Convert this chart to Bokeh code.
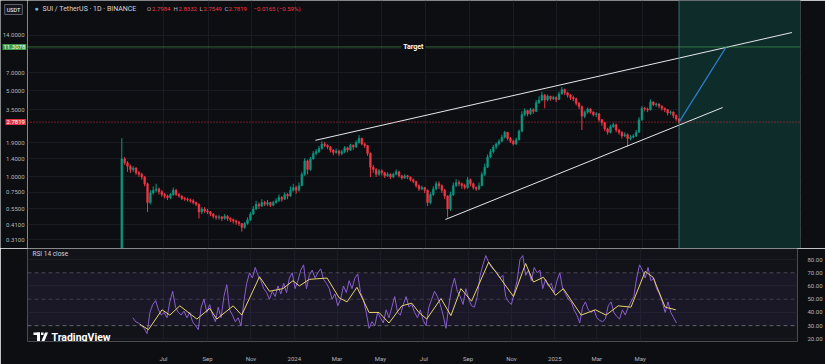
import pandas as pd
from bokeh.plotting import figure
from bokeh.layouts import column, row
from bokeh.models import (Range1d, FixedTicker, Label, Span, BoxAnnotation,
                          PolyAnnotation, ColumnDataSource, NumeralTickFormatter)
from bokeh.core.properties import value
from bokeh.embed import file_html
from bokeh.resources import INLINE

# ---------------- data (4-day candles, SUI/USDT) ----------------
START = "2023-05-03"
first_open = 0.10
closes = [
    1.40, 1.30, 1.22, 1.15, 1.18, 1.08, 1.05, 1.00,
    0.88, 0.62, 0.74, 0.78, 0.80, 0.76, 0.72,
    0.70, 0.68, 0.72, 0.78, 0.72, 0.70, 0.67, 0.66,
    0.65, 0.64, 0.62, 0.60, 0.52, 0.55, 0.53, 0.52,
    0.50, 0.48, 0.47, 0.475, 0.46, 0.48, 0.46,
    0.45, 0.44, 0.43, 0.42, 0.39, 0.42, 0.45, 0.50,
    0.55, 0.60, 0.58, 0.62, 0.60, 0.62, 0.59, 0.62,
    0.64, 0.68, 0.66, 0.72, 0.70, 0.78, 0.82, 0.78,
    0.85, 1.05, 1.35, 1.15, 1.40, 1.55, 1.60, 1.70,
    1.85, 1.80, 1.75, 1.65, 1.58, 1.62, 1.55,
    1.60, 1.72, 1.65, 1.80, 1.75, 1.90, 2.05, 1.85,
    1.80, 1.55, 1.20, 1.15, 1.05, 1.12, 1.08, 1.02,
    1.05, 1.00, 1.05, 1.10, 1.02, 0.98, 1.02,
    1.00, 0.95, 0.92, 0.85, 0.80, 0.82, 0.78, 0.62,
    0.72, 0.80, 0.88, 0.85, 0.78, 0.70, 0.55, 0.72,
    0.85, 0.90, 0.88, 0.85, 0.82, 0.95, 0.88, 0.82,
    0.80, 0.85, 1.05, 1.20, 1.45, 1.60, 1.75,
    1.85, 1.95, 2.10, 2.30, 2.05, 1.95, 1.85, 2.00,
    2.35, 3.20, 3.45, 3.25, 3.50, 3.40, 4.00, 4.20,
    4.60, 4.20, 4.50, 4.30, 4.40, 4.25, 4.70,
    5.10, 4.80, 4.60, 4.40, 4.30, 3.95, 3.70, 3.10,
    3.35, 3.55, 3.35, 3.20, 3.25, 2.90, 2.75,
    2.45, 2.30, 2.55, 2.65, 2.40, 2.30, 2.15, 2.20,
    2.05, 2.10, 2.15, 2.30, 2.90, 3.60, 3.55, 3.50,
    4.05, 3.85, 3.90, 3.75, 3.60, 3.50, 3.30, 3.35,
    3.15, 2.95, 2.7819,
]
highs = [
    2.06, 1.45, 1.34, 1.26, 1.22, 1.20, 1.12, 1.08,
    1.02, 0.90, 0.78, 0.84, 0.88, 0.82, 0.78,
    0.74, 0.72, 0.74, 0.82, 0.80, 0.74, 0.71, 0.69,
    0.68, 0.67, 0.66, 0.63, 0.61, 0.57, 0.57, 0.55,
    0.53, 0.51, 0.49, 0.49, 0.48, 0.50, 0.49,
    0.47, 0.46, 0.45, 0.44, 0.42, 0.43, 0.47, 0.52,
    0.58, 0.64, 0.62, 0.66, 0.64, 0.65, 0.63, 0.64,
    0.67, 0.72, 0.70, 0.75, 0.74, 0.84, 0.88, 0.85,
    0.90, 1.10, 1.42, 1.38, 1.45, 1.62, 1.68, 1.78,
    1.95, 1.92, 1.84, 1.78, 1.68, 1.70, 1.66,
    1.66, 1.78, 1.76, 1.86, 1.84, 1.98, 2.18, 2.08,
    1.90, 1.82, 1.58, 1.25, 1.18, 1.16, 1.15, 1.10,
    1.09, 1.07, 1.08, 1.15, 1.12, 1.04, 1.05,
    1.04, 1.01, 0.97, 0.93, 0.87, 0.85, 0.83, 0.79,
    0.75, 0.84, 0.92, 0.92, 0.87, 0.80, 0.71, 0.76,
    0.90, 0.96, 0.94, 0.90, 0.88, 1.00, 0.97, 0.90,
    0.84, 0.90, 1.10, 1.28, 1.52, 1.68, 1.82,
    1.90, 2.02, 2.20, 2.36, 2.32, 2.10, 2.00, 2.08,
    2.42, 3.40, 3.60, 3.50, 3.62, 3.60, 4.20, 4.50,
    4.90, 4.70, 4.65, 4.55, 4.55, 4.50, 4.90,
    5.35, 5.20, 4.90, 4.70, 4.55, 4.40, 4.05, 3.80,
    3.45, 3.65, 3.60, 3.40, 3.35, 3.28, 2.95,
    2.80, 2.50, 2.65, 2.75, 2.70, 2.45, 2.35, 2.30,
    2.25, 2.18, 2.22, 2.40, 3.05, 3.75, 3.70, 3.65,
    4.25, 4.10, 4.00, 3.95, 3.80, 3.65, 3.55, 3.45,
    3.40, 3.20, 3.00,
]
lows = [
    0.10, 1.25, 1.10, 1.08, 1.10, 1.04, 1.00, 0.95,
    0.84, 0.52, 0.60, 0.72, 0.75, 0.72, 0.69,
    0.67, 0.65, 0.66, 0.70, 0.70, 0.68, 0.65, 0.64,
    0.63, 0.62, 0.60, 0.58, 0.46, 0.50, 0.51, 0.50,
    0.48, 0.46, 0.45, 0.45, 0.44, 0.45, 0.44,
    0.43, 0.42, 0.41, 0.40, 0.36, 0.38, 0.41, 0.44,
    0.49, 0.54, 0.55, 0.57, 0.58, 0.58, 0.57, 0.58,
    0.61, 0.63, 0.63, 0.65, 0.66, 0.69, 0.76, 0.73,
    0.76, 0.84, 1.02, 1.05, 1.12, 1.38, 1.50, 1.56,
    1.66, 1.74, 1.68, 1.58, 1.50, 1.54, 1.48,
    1.50, 1.56, 1.58, 1.62, 1.66, 1.72, 1.86, 1.80,
    1.72, 1.48, 1.00, 1.08, 1.00, 1.02, 1.03, 0.98,
    1.00, 0.96, 0.98, 1.03, 0.99, 0.95, 0.96,
    0.96, 0.92, 0.89, 0.82, 0.77, 0.78, 0.74, 0.58,
    0.60, 0.70, 0.78, 0.80, 0.74, 0.66, 0.47, 0.53,
    0.70, 0.83, 0.84, 0.80, 0.79, 0.80, 0.84, 0.79,
    0.77, 0.78, 0.84, 1.02, 1.18, 1.42, 1.55,
    1.68, 1.80, 1.92, 2.05, 1.98, 1.88, 1.80, 1.82,
    1.98, 2.30, 3.10, 3.10, 3.18, 3.25, 3.35, 3.90,
    4.10, 3.60, 4.10, 4.15, 4.20, 4.05, 4.20,
    4.65, 4.60, 4.40, 4.20, 4.10, 3.80, 3.55, 2.40,
    3.00, 3.25, 3.25, 3.10, 3.05, 2.80, 2.60,
    2.35, 2.20, 2.25, 2.50, 2.30, 2.20, 2.05, 2.10,
    1.75, 1.98, 2.05, 2.10, 2.28, 2.85, 3.40, 3.35,
    3.45, 3.75, 3.70, 3.60, 3.45, 3.35, 3.15, 3.20,
    3.00, 2.85, 2.70,
]
NAN = float("nan")
rsi = [
    NAN, NAN, NAN, NAN, 36, 33, 32, 30,
    28, 24, 40, 46, 49, 42, 38,
    40, 36, 48, 56, 44, 40, 38, 41,
    36, 40, 33, 30, 27, 44, 50, 40,
    46, 38, 33, 44, 36, 52, 61,
    42, 38, 33, 36, 30, 48, 62, 70,
    66, 74, 68, 64, 58, 55, 50, 56,
    52, 60, 54, 62, 55, 66, 70, 58,
    64, 72, 76, 58, 68, 72, 66, 70,
    73, 65, 62, 58, 50, 54, 45,
    50, 60, 55, 64, 58, 66, 69, 55,
    50, 40, 28, 33, 30, 40, 36, 32,
    42, 36, 44, 52, 40, 38, 46,
    52, 44, 46, 40, 36, 42, 34, 30,
    44, 50, 56, 52, 46, 38, 28, 45,
    58, 66, 56, 52, 46, 58, 50, 45,
    44, 52, 68, 76, 83, 78, 74,
    72, 70, 66, 68, 52, 48, 46, 55,
    64, 80, 83, 68, 72, 64, 74, 70,
    72, 58, 65, 60, 62, 55, 64,
    70, 58, 54, 50, 48, 42, 38, 32,
    44, 48, 42, 40, 42, 36, 34,
    33, 35, 45, 48, 40, 37, 35, 42,
    38, 44, 48, 52, 66, 76, 72, 66,
    74, 64, 66, 58, 54, 48, 40, 48,
    40, 36, 32,
]
ma_dates = [
    "2023-05-29", "2023-06-10", "2023-06-29", "2023-07-10", "2023-07-24", "2023-08-17",
    "2023-09-04", "2023-09-14", "2023-10-07", "2023-10-19", "2023-11-13", "2023-11-27",
    "2023-12-16", "2023-12-30", "2024-01-08", "2024-01-22", "2024-02-16", "2024-03-04",
    "2024-03-15", "2024-03-29", "2024-04-15", "2024-04-29", "2024-05-13", "2024-05-31",
    "2024-06-14", "2024-06-24", "2024-07-05", "2024-07-25", "2024-08-08", "2024-08-22",
    "2024-09-06", "2024-09-30", "2024-11-04", "2024-11-21", "2024-12-02", "2024-12-16",
    "2025-01-02", "2025-01-13", "2025-02-07", "2025-02-27", "2025-03-14", "2025-03-31",
    "2025-04-18", "2025-05-08", "2025-05-19", "2025-06-05", "2025-06-20",
]
ma_vals = [
    31, 27, 42, 38, 45, 35,
    43, 35, 45, 38, 67, 56,
    58, 64, 60, 65, 66, 51,
    48, 59, 40, 40, 32, 45,
    47, 40, 35, 50.5, 37.6, 58,
    48.5, 78, 52, 77, 63, 66.6,
    53, 58, 38, 42, 38, 45,
    44, 71, 66.6, 44, 42,
]
last_ohlc = [2.7984, 2.8332, 2.7549, 2.7819]
change = [-0.0165, -0.59]
price_ticks = [0.31, 0.41, 0.55, 0.75, 1.0, 1.4, 1.9, 3.5, 5.0, 7.0, 11.0, 14.0]
rsi_ticks = [20, 30, 40, 50, 60, 70, 80]
month_ticks = ["2023-07-01", "2023-09-01", "2023-11-01", "2024-01-01", "2024-03-01", "2024-05-01",
               "2024-07-01", "2024-09-01", "2024-11-01", "2025-01-01", "2025-03-01", "2025-05-01"]
month_labels = ["Jul", "Sep", "Nov", "2024", "Mar", "May", "Jul", "Sep", "Nov", "2025", "Mar", "May"]
target_price = 11.3078
current_price = 2.7819
upper_dates = ["2024-01-29", "2025-11-26"]
upper_prices = [1.98, 14.8]
lower_dates = ["2024-07-29", "2025-08-21"]
lower_prices = [0.452, 3.65]
proj_dates = ["2025-06-21", "2025-08-26"]
proj_prices = [2.7819, 11.3078]
zone_start = "2025-06-21"
target_label_date = "2024-06-14"
X_START, X_END = "2022-12-22", "2025-12-08"

# ---------------- styling ----------------
BG = "#0d0e12"
RSI_BG = "#121219"
GRID = "#1a1c23"
UP, DN = "#089981", "#f23645"
AXIS_TXT = "#b2b5be"
FONT = "Roboto"
W, H1, H2, LB, RB = 825, 248, 116, 27, 25


def ms(s):
    return pd.Timestamp(s).value / 1e6


dates = pd.date_range(START, periods=len(closes), freq="4D")
opens = [first_open] + closes[:-1]
colors = [UP if c >= o else DN for o, c in zip(opens, closes)]
src = ColumnDataSource(dict(date=dates, open=opens, close=closes, high=highs,
                            low=lows, color=colors, rsi=rsi))
month_ms = [ms(d) for d in month_ticks]
x_range = Range1d(ms(X_START), ms(X_END))
y_range = Range1d(0.263, 26.9)

# ---------------- left price-scale strip ----------------
ps = figure(width=LB, height=H1, y_axis_type="log", x_range=Range1d(0, LB), y_range=y_range,
            x_axis_location=None, y_axis_location=None, output_backend="svg",
            toolbar_location=None, min_border=0, background_fill_color=BG,
            border_fill_color=BG, outline_line_color=None)
ps.grid.visible = False
ps.text(x=[LB - 3] * len(price_ticks), y=price_ticks, text=[f"{t:.4f}" for t in price_ticks],
        text_align="right", text_baseline="middle", text_font=value(FONT),
        text_font_size="6px", text_color=AXIS_TXT)
ps.add_layout(Label(x=2, x_units="screen", y=target_price, text=f"{target_price:.4f}",
                    text_baseline="middle", text_font=FONT, text_font_size="6px",
                    text_color="#ffffff", background_fill_color="#3f9a45", padding=1))
ps.add_layout(Label(x=5, x_units="screen", y=current_price, text=f"{current_price:.4f}",
                    text_baseline="middle", text_font=FONT, text_font_size="6px",
                    text_color="#ffffff", background_fill_color="#d93342", padding=1))
ps.add_layout(Label(x=13, y=H1 - 9, x_units="screen", y_units="screen", text="USDT",
                    text_align="center", text_baseline="middle", text_font=FONT,
                    text_font_size="5.5px", text_color="#ffffff",
                    border_line_color="#5d606b", border_line_width=1,
                    background_fill_color="#16171c", padding=2))

# ---------------- main price panel ----------------
p = figure(width=W - LB, height=H1, x_axis_type="datetime", y_axis_type="log",
           x_range=x_range, y_range=y_range,
           x_axis_location=None, y_axis_location=None,
           output_backend="svg", toolbar_location=None,
           min_border_left=0, min_border_right=RB, min_border_top=0, min_border_bottom=0,
           background_fill_color=BG, border_fill_color=BG, outline_line_color=None)
p.xgrid.ticker = FixedTicker(ticks=month_ms)
p.ygrid.ticker = FixedTicker(ticks=price_ticks)
p.grid.grid_line_color = GRID

# future zone
p.add_layout(BoxAnnotation(left=ms(zone_start), fill_color="#0e2c2a", fill_alpha=1.0,
                           line_color=None, level="underlay"))
p.add_layout(Span(location=ms(zone_start), dimension="height", line_color="#2f8f84",
                  line_width=1, line_alpha=0.8))

bar_w = 4 * 86400000 * 0.62
p.segment(x0="date", x1="date", y0="low", y1="high", color="color", source=src, line_width=1)
p.vbar(x="date", width=bar_w, top="open", bottom="close", fill_color="color",
       line_color="color", line_width=0.5, source=src)

# horizontal levels
p.add_layout(Span(location=target_price, dimension="width", line_color="#4caf50",
                  line_alpha=0.55, line_width=1))
p.add_layout(Span(location=current_price, dimension="width", line_color=DN,
                  line_alpha=0.85, line_width=1, line_dash="1 2"))

# trend lines and projection
p.line(pd.to_datetime(upper_dates), upper_prices, color="#e6e8ee", line_width=1)
p.line(pd.to_datetime(lower_dates), lower_prices, color="#e6e8ee", line_width=1)
p.line(pd.to_datetime(proj_dates), proj_prices, color="#2f7fd0", line_width=1.2)

p.add_layout(Label(x=ms(target_label_date), y=target_price, text="Target",
                   text_align="center", text_baseline="middle", text_font=FONT,
                   text_font_size="7px", text_font_style="bold", text_color="#ffffff",
                   background_fill_color=BG, padding=2))

# header
HY = H1 - 8
p.add_layout(Label(x=7, y=HY, x_units="screen", y_units="screen", text="●",
                   text_baseline="middle", text_font_size="7px", text_color="#6fb6ea"))
p.add_layout(Label(x=15, y=HY, x_units="screen", y_units="screen",
                   text="SUI / TetherUS · 1D · BINANCE", text_baseline="middle",
                   text_font=FONT, text_font_size="7px", text_color="#d1d4dc"))
pieces = [("O", 146.5, AXIS_TXT), (f"{last_ohlc[0]:.4f}", 151.5, DN),
          ("H", 173, AXIS_TXT), (f"{last_ohlc[1]:.4f}", 178, DN),
          ("L", 199, AXIS_TXT), (f"{last_ohlc[2]:.4f}", 203, DN),
          ("C", 224, AXIS_TXT), (f"{last_ohlc[3]:.4f}", 228, DN),
          (f"−{abs(change[0]):.4f} (−{abs(change[1]):.2f}%)", 253, DN)]
for txt, rx, col in pieces:
    p.add_layout(Label(x=rx - LB, y=HY, x_units="screen", y_units="screen",
                       text=txt, text_baseline="middle", text_font=FONT,
                       text_font_size="6px", text_color=col))

# ---------------- RSI panel ----------------
p2 = figure(width=W, height=H2, x_axis_type="datetime", x_range=x_range,
            y_range=Range1d(18.04, 88.33), y_axis_location="right",
            output_backend="svg", toolbar_location=None,
            min_border_left=LB, min_border_right=RB, min_border_top=0, min_border_bottom=19,
            background_fill_color=RSI_BG, border_fill_color=BG, outline_line_color=None)
p2.xgrid.ticker = FixedTicker(ticks=month_ms)
p2.ygrid.ticker = FixedTicker(ticks=[80, 60, 40, 20])
p2.grid.grid_line_color = "#1c1c27"

p2.add_layout(BoxAnnotation(bottom=30, top=70, fill_color="#7e57c2", fill_alpha=0.08,
                            line_color=None, level="underlay"))
for lvl, a in [(70, 0.4), (50, 0.3), (30, 0.6)]:
    p2.add_layout(Span(location=lvl, dimension="width", line_color="#9598a1",
                       line_alpha=a, line_width=1, line_dash="4 3"))

p2.line("date", "rsi", source=src, color="#8a5fd0", line_width=1)
p2.line(pd.to_datetime(ma_dates), ma_vals, color="#e8d46e", line_width=1)

xa = p2.xaxis[0]
xa.ticker = FixedTicker(ticks=month_ms)
xa.major_label_overrides = {t: lab for t, lab in zip(month_ms, month_labels)}
xa.major_label_text_font_size = "6px"
xa.major_label_text_font = FONT
xa.major_label_text_color = AXIS_TXT
xa.major_tick_line_color = None
xa.minor_tick_line_color = None
xa.axis_line_color = None
xa.major_label_standoff = 7

ya = p2.yaxis[0]
ya.ticker = FixedTicker(ticks=rsi_ticks)
ya.formatter = NumeralTickFormatter(format="0.00")
ya.major_label_text_font_size = "6px"
ya.major_label_text_font = FONT
ya.major_label_text_color = AXIS_TXT
ya.major_tick_line_color = None
ya.minor_tick_line_color = None
ya.axis_line_color = None
ya.major_label_standoff = 4

p2.add_layout(Label(x=5, y=88, x_units="screen", y_units="screen", text="RSI 14 close",
                    text_baseline="middle", text_font=FONT, text_font_size="6.5px",
                    text_color="#d1d4dc"))

# TradingView logo
for l, r, t, b in [(6, 12.5, 9, 6.5), (9.5, 12.5, 9, 0.5), (13.5, 16.0, 9, 6.5)]:
    p2.add_layout(BoxAnnotation(left=l, right=r, top=t, bottom=b, left_units="screen",
                                right_units="screen", top_units="screen", bottom_units="screen",
                                fill_color="#ffffff", fill_alpha=1.0, line_color=None))
p2.add_layout(PolyAnnotation(xs=[17.5, 20.5, 17.0, 14.0], ys=[9, 9, 0.5, 0.5],
                             xs_units="screen", ys_units="screen",
                             fill_color="#ffffff", fill_alpha=1.0, line_color=None))
p2.add_layout(Label(x=24, y=4.5, x_units="screen", y_units="screen", text="TradingView",
                    text_baseline="middle", text_font=FONT, text_font_size="10.5px",
                    text_font_style="bold", text_color="#ffffff"))

layout = column(row(ps, p, spacing=0), p2, spacing=0)
open("out.html", "w").write(file_html(layout, INLINE))
